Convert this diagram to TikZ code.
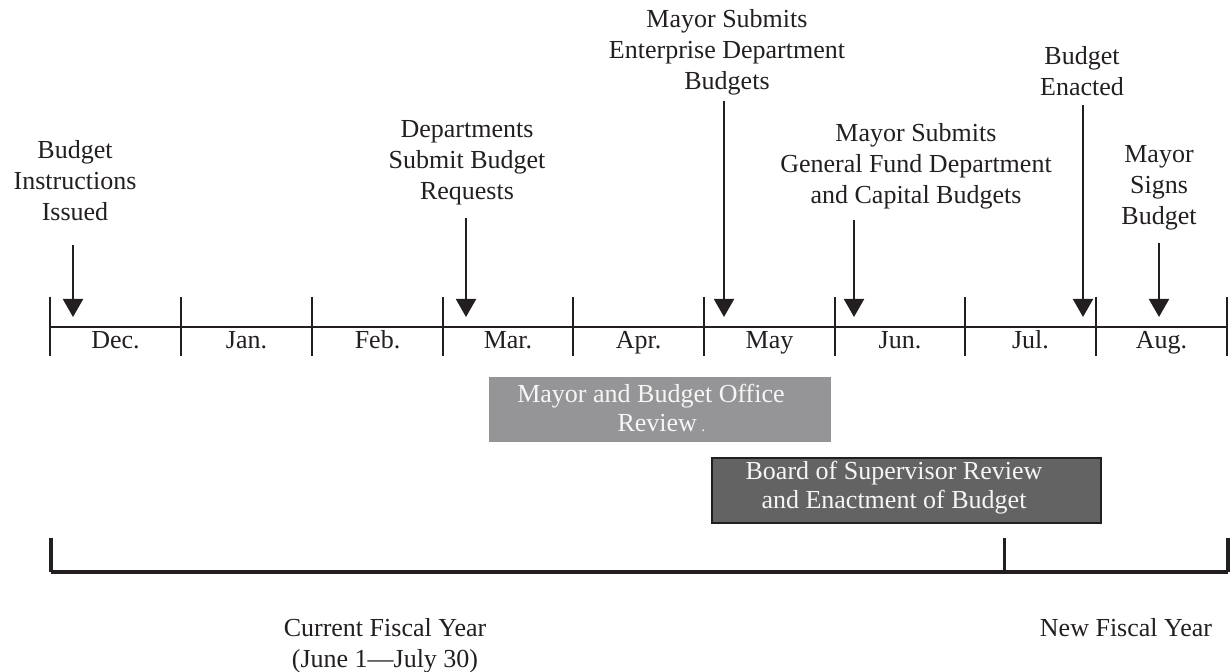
\documentclass[tikz,border=0pt]{standalone}
\usepackage{fontspec}
\setmainfont{Liberation Serif}
\usetikzlibrary{arrows.meta}
\definecolor{ink}{RGB}{35,31,32}
\definecolor{lightbox}{RGB}{149,149,151}
\definecolor{darkbox}{RGB}{99,99,100}
\definecolor{boxtext}{RGB}{246,246,246}
\tikzset{
  lbl/.style={inner sep=0pt, align=center, text=ink, font=\fontsize{13}{15.5}\selectfont},
  month/.style={inner sep=0pt, anchor=base, text=ink, font=\fontsize{13}{15.5}\selectfont},
  evarrow/.style={draw=ink, line width=1pt, -{Triangle[width=10pt,length=9pt]}},
  axis/.style={draw=ink, line width=1.2pt},
  tick/.style={draw=ink, line width=1pt},
  bracket/.style={draw=ink, line width=2pt},
  boxlbl/.style={inner sep=0pt, align=center, text=boxtext, font=\fontsize{13}{14.5}\selectfont},
}
\begin{document}
\begin{tikzpicture}[x=0.5pt,y=-0.5pt]
\useasboundingbox (0,0) rectangle (1231,672);

% timeline axis
\coordinate (L) at (50,327);
\coordinate (R) at (1227,327);
\draw[axis] (L) -- (R);
\foreach \i/\x in {0/50,1/181,2/312,3/443,4/573,5/704,6/835,7/965,8/1096,9/1227}{
  \coordinate (t\i) at (\x,297);
  \coordinate (b\i) at (\x,356);
  \draw[tick] (t\i) -- (b\i);
}
% months
\foreach \m/\x in {Dec./115.5,Jan./246.5,Feb./377.5,Mar./508,Apr./638.5,May/769.5,Jun./900,Jul./1030.5,Aug./1161.5}{
  \node[month] (m\x) at (\x,349) {\m};
}

% events
\node[lbl] (e1) at (75,181) {Budget\\Instructions\\Issued};
\coordinate (e1s) at (73,245); \coordinate (e1t) at (73,317);
\draw[evarrow] (e1s) -- (e1t);

\node[lbl] (e2) at (467,163) {Departments\\Submit Budget\\Requests};
\coordinate (e2s) at (466,218); \coordinate (e2t) at (466,317);
\draw[evarrow] (e2s) -- (e2t);

\node[lbl] (e3) at (727,52) {Mayor Submits\\Enterprise Department\\Budgets};
\coordinate (e3s) at (724,101); \coordinate (e3t) at (724,317);
\draw[evarrow] (e3s) -- (e3t);

\node[lbl] (e4) at (916,166) {Mayor Submits\\General Fund Department\\and Capital Budgets};
\coordinate (e4s) at (854,220); \coordinate (e4t) at (854,317);
\draw[evarrow] (e4s) -- (e4t);

\node[lbl] (e5) at (1082,71) {Budget\\Enacted};
\coordinate (e5s) at (1083,105); \coordinate (e5t) at (1083,317);
\draw[evarrow] (e5s) -- (e5t);

\node[lbl] (e6) at (1159,188) {Mayor\\Signs\\Budget};
\coordinate (e6s) at (1159,243); \coordinate (e6t) at (1159,317);
\draw[evarrow] (e6s) -- (e6t);

% review boxes
\fill[lightbox] (489,377) rectangle (831,442);
\node[boxlbl] (r1) at (651,408) {Mayor and Budget Office\\\hspace*{0.8em}Review\,{\footnotesize .}};

\draw[draw=ink, fill=darkbox, line width=1pt] (712,458) rectangle (1101,523);
\node[boxlbl] (r2) at (894,488) {Board of Supervisor Review\\and Enactment of Budget};

% fiscal year bracket
\coordinate (f0) at (51,538);
\coordinate (f0b) at (51,572);
\coordinate (f1) at (1004,538);
\coordinate (f1b) at (1004,572);
\coordinate (f2) at (1228,538);
\coordinate (f2b) at (1228,572);
\draw[bracket] (f0) -- (f0b);
\draw[tick, line width=1.5pt] (f1) -- (f1b);
\draw[bracket] (f2) -- (f2b);
\draw[bracket] (f0b) -- (f2b);

\node[lbl] (cfy) at (385,646) {Current Fiscal Year\\(June 1---July 30)};
\node[lbl] (nfy) at (1126,628) {New Fiscal Year};
\end{tikzpicture}
\end{document}
